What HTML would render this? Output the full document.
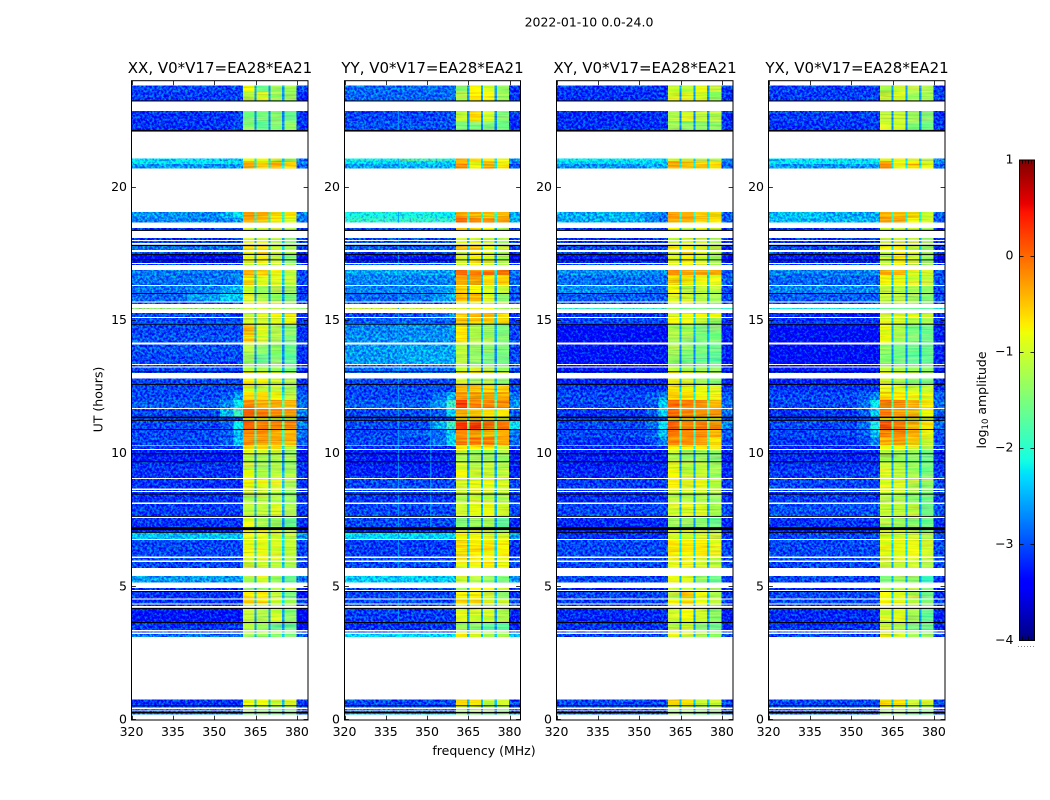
<!DOCTYPE html>
<html lang="en">
<head>
<meta charset="utf-8">
<title>2022-01-10 dynamic spectra</title>
<style>
html,body{margin:0;padding:0;background:#fff;width:1050px;height:800px;overflow:hidden}
svg{display:block}
text{font-family:"DejaVu Sans","Liberation Sans",sans-serif;fill:#000}
</style>
</head>
<body>
<svg id="chart" xmlns="http://www.w3.org/2000/svg" width="1050" height="800" viewBox="0 0 1050 800">
  <defs>
    <filter id="grain" x="0" y="0" width="100%" height="100%" color-interpolation-filters="sRGB">
      <feTurbulence type="fractalNoise" baseFrequency="0.42 0.42" numOctaves="2" seed="7" result="n"/>
      <feColorMatrix in="n" type="matrix" values="0 0 0 0 0.5  2.6 0 0 0 -0.85  0 1.6 0 0 -0.25  0 0 0 0 1" result="m"/>
      <feComposite in="SourceGraphic" in2="m" operator="arithmetic" k1="0" k2="1" k3="0.6" k4="-0.3" result="c"/>
      <feComposite in="c" in2="SourceAlpha" operator="in"/>
    </filter>
    <filter id="streak" x="0" y="0" width="100%" height="100%" color-interpolation-filters="sRGB">
      <feTurbulence type="fractalNoise" baseFrequency="0.03 0.55" numOctaves="2" seed="3" result="n"/>
      <feColorMatrix in="n" type="matrix" values="1.8 0 0 0 -0.4  0 1.8 0 0 -0.4  0 0 0 0 0.5  0 0 0 0 1" result="m"/>
      <feComposite in="SourceGraphic" in2="m" operator="arithmetic" k1="0" k2="1" k3="0.32" k4="-0.16" result="c"/>
      <feComposite in="c" in2="SourceAlpha" operator="in"/>
    </filter>
    <linearGradient id="jet-gradient" x1="0" y1="1" x2="0" y2="0"></linearGradient>
  </defs>
  <text x="589" y="26.5" font-size="12.5" text-anchor="middle">2022-01-10 0.0-24.0</text>
  <text x="220" y="73" font-size="15" text-anchor="middle">XX, V0*V17=EA28*EA21</text>
  <text x="432.5" y="73" font-size="15" text-anchor="middle">YY, V0*V17=EA28*EA21</text>
  <text x="645" y="73" font-size="15" text-anchor="middle">XY, V0*V17=EA28*EA21</text>
  <text x="857" y="73" font-size="15" text-anchor="middle">YX, V0*V17=EA28*EA21</text>
  <text transform="translate(102.5,399.5) rotate(-90)" font-size="12.5" text-anchor="middle">UT (hours)</text>
  <text x="484" y="755" font-size="12.5" text-anchor="middle">frequency (MHz)</text>
  <text transform="translate(986,400) rotate(-90)" font-size="12.5" text-anchor="middle">log<tspan font-size="8.5" dy="2">10</tspan><tspan dy="-2"> amplitude</tspan></text>
  <g id="panels"></g>
  <g id="colorbar"></g>
</svg>
<script>
// Frequency channel edges (MHz), and which table column / notch fills each channel group
const channelEdges = [320, 340, 352, 357, 360.5, 364.6, 365.4, 369.6, 370.4, 374.6, 375.4, 379.8, 384];
const channelColumn = [0, 1, 2, 3, 4, 'n', 5, 'n', 6, 'n', 7, 8];
const xTickValues = [320, 335, 350, 365, 380];
const yTickValues = [0, 5, 10, 15, 20];
const colorbarTicks = [1, 0, -1, -2, -3, -4];

// Narrow interference channels visible in the YY panel
const rfiFreqMHz = [339.4, 351.2];
const rfiFromUT = [3.6, 6.8];
const rfiToUT = [23, 12.1];
const rfiLevel = [-2.6, -2.55];

// UT range (hours) of each observed row
const rowTopUT = [23.82,23.58,22.87,22.49,21.07,20.99,20.88,19.08,18.85,18.47,
18.10,17.99,17.80,17.57,17.46,17.12,16.90,16.71,16.30,16.02,
15.67,15.47,15.27,15.10,14.84,14.46,14.09,13.74,13.32,13.23,
13.06,12.82,12.58,12.32,12.02,11.68,11.34,11.23,10.89,10.63,
10.28,10.14,9.99,9.69,9.39,9.05,8.64,8.55,8.46,8.11,
7.59,7.13,7.03,6.76,6.09,5.94,5.41,4.96,4.84,4.53,
4.34,4.21,3.68,3.33,3.23,.77,.53,.42,.35,.25];
const rowBottomUT = [23.58,23.24,22.49,22.14,20.99,20.88,20.70,18.85,18.67,18.38,
18.02,17.91,17.64,17.46,17.15,17.09,16.71,16.33,16.02,15.72,
15.62,15.43,15.12,14.89,14.46,14.18,13.74,13.36,13.27,13.06,
13.02,12.58,12.32,12.02,11.72,11.34,11.23,10.89,10.63,10.31,
10.18,9.99,9.69,9.39,9.09,8.69,8.60,8.46,8.16,7.64,
7.13,7.03,6.80,6.13,5.98,5.70,5.17,4.88,4.57,4.38,
4.28,3.68,3.38,3.29,3.12,.53,.46,.38,.25,.21];

// Flagged (black) UT ranges
const flagTopUT = [23.26,22.15,18.40,17.84,17.50,17.29,16.03,14.88,13.09,12.62,11.39,11.27,10.92,10.01,9.71,8.50,7.66,7.24,7.06,4.84,4.21,3.68,.55,.30];
const flagBottomUT = [23.22,22.09,18.36,17.79,17.46,17.26,16.00,14.84,13.06,12.58,11.33,11.23,10.89,9.99,9.69,8.46,7.64,7.13,7.03,4.82,4.17,3.64,.53,.25];

// Level of the narrow blue notches between the four bright bands, per row
const notchLevels = [-2.6,-2.6,-2.7,-2.7,-2.3,-2.2,-2.2,-2,-2,-2.5,
-2.5,-2.5,-2.3,-2.4,-2.6,-2.6,-2.2,-2.4,-2.6,-2.6,
-2.4,-1.8,-2.4,-2.4,-2.5,-2.5,-2.7,-2.7,-2.6,-2.6,
-2.3,-2.4,-2.4,-2.1,-1.6,-1.7,-2.2,-1.5,-1.9,-1.8,
-2.2,-2.6,-2.7,-2.6,-2.5,-2.4,-2.5,-2.5,-2.6,-2.5,
-2.6,-2.3,-2.3,-2.3,-2.4,-2.5,-2.5,-2.5,-2.4,-2.3,
-2.5,-2.6,-2.6,-2.5,-2.4,-2.4,-2.5,-2.5,-2.6,-2.6];

// log10 amplitude per row: [bgLeft, bgMid, bgRight, edge, band1, band2, band3, band4, tail]
const xxRows = [
[-3,-3,-3,-3,-.8,-1.6,-1.3,-1.25,-3],
[-3.05,-3.05,-3.05,-3,-1.1,-.95,-1.3,-1.3,-3.2],
[-3.1,-3.1,-3.1,-3,-1.5,-1.5,-1.4,-1.6,-3.1],
[-3.1,-3.1,-3.1,-3,-1.4,-1.65,-1.45,-1.35,-3.1],
[-2.3,-2.3,-2.4,-2.4,-.8,-.8,-1,-1.2,-2.8],
[-2.2,-2.2,-2.2,-2.2,-.35,-.55,-.4,-.55,-2.7],
[-2.6,-2.6,-2.6,-2.6,-.35,-.55,-.4,-.55,-2.9],
[-2.6,-2.7,-2.5,-2.2,-.25,-.35,-.55,-.65,-2.7],
[-2.7,-2.7,-2.7,-2.6,-.45,-.5,-.7,-.9,-2.8],
[-3.1,-3.1,-3.1,-3.1,-1,-1,-1.1,-1.2,-3.1],
[-3.1,-3.1,-3.1,-3.1,-1.1,-1.1,-1.2,-1.4,-3.1],
[-3,-3,-3,-3,-1,-1,-1.2,-1.4,-3],
[-2.8,-2.8,-2.8,-2.8,-.55,-.65,-1,-1.2,-3],
[-3,-3,-3,-3,-.75,-.5,-.95,-1.1,-3.1],
[-3.3,-3.3,-3.3,-3.2,-.9,-.8,-1.1,-1.5,-3.4],
[-3,-3,-3,-3,-1,-1,-1.1,-1.3,-3],
[-2.75,-2.75,-2.75,-2.7,-.35,-.5,-.85,-1.1,-3],
[-2.8,-2.8,-2.8,-2.7,-.6,-.9,-.95,-1.1,-3],
[-2.8,-2.7,-2.55,-2.5,-.95,-1.3,-1.2,-1.3,-3.1],
[-2.85,-2.6,-2.3,-2.4,-1,-1.2,-1.3,-1.5,-3],
[-3,-3,-3,-3,-.7,-.7,-.9,-1.2,-3],
[-1.4,-1.4,-1.4,-1.4,-1,-1,-1.1,-1.3,-1.4],
[-3,-3,-3,-3,-1.1,-.9,-.75,-.65,-3.1],
[-3,-3,-3,-3,-1,-1,-.9,-.8,-3.2],
[-3,-3,-3,-3,-.45,-.9,-1.2,-1.4,-3.1],
[-2.95,-2.95,-2.95,-2.95,-.55,-1,-1.25,-1.5,-3.1],
[-2.95,-2.95,-2.95,-2.95,-1.2,-1.4,-1.3,-1.55,-3.1],
[-3,-3,-3,-3,-1.3,-1.6,-1.45,-1.7,-3.1],
[-3,-3,-3,-3,-1.2,-1.3,-1.4,-1.6,-3.1],
[-3,-3,-3,-3,-1.1,-1.2,-1.3,-1.5,-3.1],
[-3,-3,-3,-3,-.6,-.7,-.9,-1.2,-3.1],
[-3,-3,-3,-3,-.7,-.75,-1,-1.2,-3.1],
[-3,-3,-3,-3,-.9,-1.05,-1.1,-1.25,-3],
[-3,-3,-2.9,-2.6,-.6,-.6,-.8,-1.1,-2.9],
[-2.9,-2.9,-2.7,-2.2,-.2,-.4,-.35,-.45,-2.8],
[-3,-3,-2.5,-1.9,.1,-.1,-.2,-.3,-2.7],
[-3,-3,-3,-3,-.8,-.8,-.9,-1,-3],
[-3,-3,-2.9,-2.2,.15,-.05,-.15,-.2,-2.7],
[-3,-3,-2.9,-2.5,-.15,-.2,-.3,-.35,-2.8],
[-3,-3,-2.9,-2.4,-.2,-.3,-.35,-.45,-2.9],
[-3.05,-3.05,-3.05,-3,-.6,-.55,-.65,-.95,-3.05],
[-3.2,-3.2,-3.2,-3.2,-.85,-.95,-1,-1.35,-3.2],
[-3.2,-3.2,-3.2,-3.2,-1.1,-1.2,-1.2,-1.3,-3.2],
[-3.1,-3.1,-3.1,-3.1,-1.1,-1.3,-1.2,-1.35,-3.1],
[-3.1,-3.1,-3.1,-3.1,-.8,-1.15,-1.1,-1.2,-3.1],
[-3.1,-3.1,-3.1,-3.1,-.75,-.85,-.95,-1.25,-3.1],
[-3.1,-3.1,-3.1,-3.1,-1,-1,-1.1,-1.3,-3.1],
[-3.1,-3.1,-3.1,-3.1,-1.1,-1.1,-1.2,-1.4,-3.1],
[-3.1,-3.1,-3.1,-3.1,-1.2,-1.1,-1.2,-1.35,-3.1],
[-3.05,-3.05,-3.05,-3.05,-1.1,-1.1,-.95,-1.25,-3.05],
[-3.1,-3.1,-3.1,-3.1,-.9,-1.25,-1.3,-1.6,-3.1],
[-3.2,-3.2,-3.2,-3.2,-.7,-.7,-.9,-1.2,-3.2],
[-2.4,-2.4,-2.4,-2.4,-.9,-.9,-1,-1.1,-2.6],
[-3,-3,-3,-3,-.85,-.85,-.95,-1.05,-3],
[-3,-3,-3,-3,-.9,-.9,-1,-1.1,-3],
[-3,-3,-3,-3,-1,-1,-1.1,-1.2,-3],
[-2.6,-2.6,-2.6,-2.6,-1.2,-.95,-1.3,-1.6,-2.85],
[-3.1,-3.1,-3.1,-3.1,-1.4,-1.3,-1.2,-1,-3.1],
[-3.1,-3.1,-3.1,-3.1,-.7,-.7,-1.1,-1.5,-3.3],
[-3.1,-3.1,-3.1,-3.1,-.55,-.6,-1,-1.2,-3.1],
[-3.1,-3.1,-3.1,-3.1,-1,-1,-1.1,-1.3,-3.1],
[-3.25,-3.25,-3.25,-3.25,-1.1,-1.2,-1,-1.4,-3.4],
[-3.1,-3.1,-3.1,-3.1,-1.1,-1.3,-1.6,-1.6,-3.3],
[-3.1,-3.1,-3.1,-3.1,-1,-1.1,-1.2,-1.4,-3.1],
[-2.8,-2.8,-2.8,-2.8,-1.35,-1.3,-1.4,-1.5,-2.9],
[-3.1,-3.1,-3.1,-3.1,-.8,-.8,-1.05,-.95,-3.1],
[-3,-3,-3,-3,-1.1,-1.1,-1.2,-1.2,-3],
[-2.7,-2.7,-2.7,-2.7,-1.2,-1.2,-1.3,-1.3,-2.8],
[-2.9,-2.9,-2.9,-2.9,-1.3,-1.3,-1.4,-1.4,-3],
[-2.7,-2.7,-2.7,-2.7,-1.4,-1.4,-1.5,-1.5,-2.8]];

const yyRows = [
[-2.85,-2.85,-2.85,-2.8,-1.4,-.75,-.95,-1.35,-3.1],
[-2.85,-2.85,-2.85,-2.8,-1.2,-.7,-.85,-1.3,-3.1],
[-3,-3,-3,-2.95,-1.05,-.55,-1,-1.45,-3.1],
[-2.95,-2.95,-2.95,-2.95,-1.5,-1.5,-1.5,-1.55,-3.15],
[-2.1,-1.8,-1.9,-2.1,-.4,-.6,-.6,-.9,-2.6],
[-2.3,-2.3,-2.3,-2.3,-.45,-.85,-.5,-.85,-2.7],
[-2.55,-2.5,-2.5,-2.4,-.15,-.8,-.3,-.7,-2.9],
[-2.1,-2.1,-2.15,-2.2,-.35,-.35,-.4,-.4,-2.5],
[-1.95,-1.95,-1.95,-2,-.05,-.05,-.1,-.3,-2.5],
[-3,-3,-3,-3,-.6,-.5,-.75,-1.2,-3],
[-3,-3,-3,-3,-1.1,-1,-1,-1.2,-3],
[-2.9,-2.9,-2.9,-2.9,-.8,-.8,-1,-1.3,-3],
[-2.9,-2.9,-2.9,-2.9,-.45,-.45,-.75,-1.05,-3],
[-3,-3,-3,-3,-1.1,-.75,-.85,-1.2,-3.1],
[-3.2,-3.2,-3.2,-3.2,-1,-.7,-.9,-1.2,-3.3],
[-2.9,-2.9,-2.9,-2.9,-1,-.9,-1,-1.2,-3],
[-2.55,-2.55,-2.55,-2.5,0,-.15,-.1,-.05,-2.8],
[-2.7,-2.7,-2.7,-2.7,-.3,-.3,-.65,-.55,-2.85],
[-2.7,-2.7,-2.6,-2.5,-.6,-.75,-.95,-1.05,-2.9],
[-2.85,-2.75,-2.6,-2.5,-.45,-.4,-.9,-1.4,-2.95],
[-3,-3,-3,-3,-.8,-.8,-.9,-1.1,-3],
[-1.1,-1.1,-1.1,-1.1,-.9,-.9,-.85,-1.2,-1.3],
[-3,-2.95,-2.8,-2.6,-.55,-.45,-.45,-.6,-3.1],
[-2.9,-2.9,-2.9,-2.9,-.45,-.5,-.5,-.6,-3.1],
[-2.7,-2.65,-2.65,-2.6,-.65,-1.15,-1.3,-1.5,-3],
[-2.65,-2.65,-2.65,-2.65,-.7,-1.2,-1.25,-1.45,-3],
[-2.6,-2.55,-2.55,-2.5,-1.1,-1.35,-1.4,-1.5,-3],
[-2.6,-2.5,-2.5,-2.5,-1.15,-1.4,-1.55,-1.55,-3],
[-2.9,-2.9,-2.9,-2.9,-1.1,-1.2,-1.3,-1.4,-3],
[-2.8,-2.8,-2.8,-2.8,-1,-1,-1.2,-1.3,-3],
[-2.8,-2.8,-2.8,-2.8,-.5,-.6,-.8,-1,-3],
[-3,-3,-3,-3,-1,-1.3,-1.2,-1.4,-3.1],
[-3,-3,-3,-3,-.45,-.45,-.5,-.55,-3],
[-3,-3,-2.8,-2.5,-.25,-.3,-.3,-.35,-2.8],
[-2.9,-2.9,-2.6,-1.9,.25,-.15,-.2,-.2,-2.6],
[-3,-3,-2.9,-2.3,-.35,-.5,-.65,-.7,-2.9],
[-3,-3,-3,-3,-.7,-.7,-.8,-.9,-3],
[-3,-3,-2.5,-1.9,.3,.2,-.05,-.05,-2.2],
[-3,-2.9,-2.8,-2.4,-.2,-.25,-.35,-.4,-2.8],
[-3,-3,-2.8,-2.3,-.15,-.1,-.1,-.3,-2.8],
[-3.1,-3.1,-3.1,-3.1,-.7,-.7,-.7,-1,-3.1],
[-3.2,-3.2,-3.2,-3.2,-1,-1.3,-1.2,-1.2,-3.2],
[-3.2,-3.2,-3.2,-3.2,-1.2,-1.3,-1.3,-1.3,-3.2],
[-3.2,-3.2,-3.2,-3.2,-1,-1.2,-1.1,-1.2,-3.2],
[-3.15,-3.15,-3.15,-3.15,-.8,-1,-1,-1.1,-3.15],
[-3,-3,-3,-3,-.95,-.85,-.85,-.95,-3],
[-3,-3,-3,-3,-1.05,-1,-1,-1.05,-3],
[-3,-3,-3,-3,-1.05,-1.05,-1.05,-1.1,-3],
[-3.1,-3.1,-3.1,-3.1,-1.2,-1,-1.1,-1.25,-3.1],
[-3,-3,-3,-3,-1.05,-.85,-.85,-1,-3],
[-3,-3,-3,-3,-1.45,-1.3,-1.25,-1.7,-3.15],
[-3.2,-3.2,-3.2,-3.2,-.9,-.85,-1,-1.4,-3.2],
[-2.3,-2.3,-2.3,-2.3,-.75,-.8,-.95,-.95,-2.6],
[-3.05,-3.05,-3.05,-3.05,-.6,-.65,-.65,-.75,-3.1],
[-3,-3,-3,-3,-.75,-.75,-.75,-.8,-3],
[-3,-3,-3,-3,-.85,-.85,-.7,-.8,-3],
[-2.35,-2.35,-2.35,-2.35,-1,-1.2,-1.35,-1.5,-2.6],
[-3,-3,-3,-3,-1.3,-.8,-.8,-1,-3],
[-3,-3,-3,-3,-.75,-.75,-1.05,-1.4,-3.1],
[-3,-3,-3,-3,-.5,-.6,-.9,-1,-3],
[-3,-3,-3,-3,-1,-1,-1.1,-1.2,-3],
[-3.05,-3.05,-3.05,-3.05,-.9,-1,-1,-1.2,-3.2],
[-3.1,-3.1,-3.1,-3.1,-1.3,-1.4,-1.7,-1.7,-3.2],
[-3,-3,-3,-3,-1,-1.1,-1.2,-1.3,-3],
[-2.3,-2.3,-2.3,-2.3,-.7,-.9,-1.2,-1.2,-2.3],
[-3,-3,-3,-3,-.6,-.7,-1.1,-1,-3],
[-2.9,-2.9,-2.9,-2.9,-1,-1,-1.1,-1.2,-3],
[-2.7,-2.7,-2.7,-2.7,-1.2,-1.2,-1.3,-1.3,-2.8],
[-2.9,-2.9,-2.9,-2.9,-1.3,-1.3,-1.4,-1.4,-3],
[-2.4,-2.4,-2.4,-2.4,-1.4,-1.4,-1.5,-1.5,-2.5]];

const xyRows = [
[-3.1,-3.1,-3.1,-3.1,-1,-1.1,-.85,-1.1,-3.1],
[-3.1,-3.1,-3.1,-3.1,-.95,-.95,-.95,-1.3,-3.1],
[-3.15,-3.15,-3.15,-3.1,-1.2,-.95,-1.1,-1.2,-3.15],
[-3.1,-3.1,-3.1,-3.1,-1.3,-1.4,-1.4,-1.35,-3.1],
[-2.2,-2.2,-2.3,-2.3,-1,-1,-1.2,-1.2,-2.7],
[-2.3,-2.3,-2.3,-2.3,-.4,-.5,-.6,-.7,-2.7],
[-2.6,-2.6,-2.5,-2.5,-.35,-.45,-.45,-.65,-2.9],
[-2.5,-2.5,-2.65,-2.75,-.25,-.3,-.5,-.55,-2.9],
[-2.5,-2.5,-2.7,-2.8,-.4,-.4,-.6,-.7,-2.9],
[-3.1,-3.1,-3.1,-3.1,-.75,-1.1,-.8,-1,-3.1],
[-3.1,-3.1,-3.1,-3.1,-1,-.9,-1,-1.2,-3.1],
[-3.1,-3.1,-3.1,-3.1,-1,-.9,-1,-1.2,-3.1],
[-3,-3,-3,-3,-.7,-.7,-.9,-1.1,-3.1],
[-3,-3,-3,-3,-.95,-.7,-.85,-1.1,-3.1],
[-3.2,-3.2,-3.2,-3.2,-.9,-.7,-1,-1.3,-3.3],
[-3,-3,-3,-3,-1,-.9,-1,-1.2,-3],
[-2.65,-2.65,-2.65,-2.65,-.2,-.35,-.3,-.35,-2.9],
[-2.8,-2.8,-2.8,-2.8,-.6,-.7,-.85,-.9,-2.9],
[-2.65,-2.7,-2.8,-2.8,-.8,-1.15,-1.1,-1.15,-3],
[-2.9,-2.9,-2.9,-2.9,-.95,-1,-1.15,-1.3,-3],
[-3,-3,-3,-3,-.9,-.9,-1,-1.2,-3],
[-1.9,-1.9,-1.9,-1.9,-1.3,-1.5,-1.5,-1.7,-2],
[-3.1,-3.1,-3.1,-3.1,-.9,-.8,-.75,-.75,-3.1],
[-3,-3,-3,-3,-.8,-.9,-1.1,-1.3,-3.1],
[-3.3,-3.3,-3.3,-3.3,-1.2,-1.25,-1.5,-1.5,-3.2],
[-3.3,-3.3,-3.3,-3.3,-1.25,-1.35,-1.5,-1.5,-3.2],
[-3.25,-3.25,-3.25,-3.25,-1.25,-1.4,-1.5,-1.6,-3.2],
[-3.25,-3.25,-3.25,-3.25,-1.3,-1.5,-1.6,-1.7,-3.2],
[-3.3,-3.3,-3.3,-3.3,-1.2,-1.3,-1.4,-1.5,-3.2],
[-3.2,-3.2,-3.2,-3.2,-1.1,-1.2,-1.3,-1.4,-3.2],
[-3.1,-3.1,-3.1,-3.1,-.7,-.8,-1,-1.2,-3.1],
[-3.2,-3.2,-3.2,-3.2,-.85,-1,-1.3,-1.45,-3.2],
[-3.1,-3.1,-3.1,-3.1,-.65,-.75,-.85,-.95,-3.1],
[-3,-3,-2.9,-2.7,-.55,-.6,-.8,-.85,-2.9],
[-3,-3,-2.9,-2.3,-.05,-.2,-.2,-.35,-2.8],
[-3.1,-3.1,-2.9,-2.3,.05,-.1,-.25,-.3,-2.8],
[-3,-3,-3,-3,-.7,-.7,-.8,-.9,-3],
[-3,-3,-2.8,-2.2,.1,-.05,-.1,-.2,-2.7],
[-3,-3,-2.9,-2.4,-.05,-.15,-.2,-.4,-2.9],
[-3.1,-3.1,-3,-2.7,-.2,-.25,-.3,-.6,-3],
[-3.15,-3.15,-3.15,-3.15,-.7,-.65,-.7,-.9,-3.15],
[-3.2,-3.2,-3.2,-3.2,-1,-1.3,-1.3,-1.35,-3.2],
[-3.2,-3.2,-3.2,-3.2,-1.2,-1.35,-1.3,-1.45,-3.2],
[-3.2,-3.2,-3.2,-3.2,-.9,-1.15,-1.1,-1.3,-3.2],
[-3.15,-3.15,-3.15,-3.15,-.75,-1.05,-1.05,-1.3,-3.15],
[-3.05,-3.05,-3.05,-3.05,-.75,-.9,-.85,-1.1,-3.05],
[-3.1,-3.1,-3.1,-3.1,-1,-1,-1,-1.2,-3.1],
[-3.1,-3.1,-3.1,-3.1,-1.1,-1.1,-1.1,-1.3,-3.1],
[-3.15,-3.15,-3.15,-3.15,-1.15,-1.15,-1.2,-1.4,-3.15],
[-3,-3,-3,-3,-1,-.95,-.95,-1.2,-3],
[-3.15,-3.15,-3.15,-3.15,-1.3,-1.35,-1.4,-1.6,-3.15],
[-3.2,-3.2,-3.2,-3.2,-.85,-.85,-1,-1.3,-3.2],
[-3.1,-3.1,-3.1,-3.1,-.95,-.95,-1,-1.1,-3.1],
[-3,-3,-3,-3,-.65,-.65,-.7,-.9,-3],
[-3,-3,-3,-3,-.8,-.8,-.9,-1,-3],
[-3,-3,-3,-3,-.9,-.9,-1,-1.1,-3],
[-3,-3,-3,-3,-.85,-.9,-1.35,-1.6,-3.1],
[-3.2,-3.2,-3.2,-3.2,-1,-.95,-1.1,-1.3,-3.2],
[-3,-3,-3,-3,-1.1,-.5,-.8,-1.2,-3.1],
[-3.05,-3.05,-3.05,-3.05,-.7,-.55,-.85,-1.1,-3.05],
[-3.05,-3.05,-3.05,-3.05,-1,-.9,-1,-1.2,-3.05],
[-3.15,-3.15,-3.15,-3.15,-1,-.8,-1,-1.35,-3.2],
[-3.1,-3.1,-3.1,-3.1,-1.15,-1,-1.45,-1.6,-3.2],
[-3.05,-3.05,-3.05,-3.05,-1,-1,-1.2,-1.4,-3.05],
[-3,-3,-3,-3,-.9,-1.1,-1.2,-1.3,-3],
[-3,-3,-3,-3,-.55,-.65,-1.05,-1.05,-3],
[-2.9,-2.9,-2.9,-2.9,-1,-1,-1.2,-1.2,-3],
[-2.8,-2.8,-2.8,-2.8,-1.2,-1.2,-1.3,-1.3,-2.9],
[-3,-3,-3,-3,-1.3,-1.3,-1.4,-1.4,-3],
[-2.8,-2.8,-2.8,-2.8,-1.4,-1.4,-1.5,-1.5,-2.9]];

const yxRows = [
[-3.05,-3.05,-3.05,-3.05,-1.2,-1.05,-1.2,-1.25,-3.05],
[-3.05,-3.05,-3.05,-3.05,-1.05,-.95,-1.3,-1.25,-3.05],
[-3.05,-3.05,-3.05,-3.05,-1.1,-1.05,-1.3,-1.45,-3.1],
[-3.1,-3.1,-3.1,-3.05,-1,-1,-1.45,-1.55,-3.1],
[-2.3,-2.3,-2.3,-2.3,-.85,-.8,-1,-1.2,-2.7],
[-2.2,-2.2,-2.2,-2.2,-.4,-.9,-.7,-.9,-2.7],
[-2.6,-2.6,-2.6,-2.6,-.3,-.85,-.5,-.85,-2.9],
[-2.4,-2.5,-2.5,-2.5,-.35,-.4,-.5,-1,-2.9],
[-2.45,-2.45,-2.45,-2.5,-.3,-.35,-.8,-1,-2.9],
[-3.1,-3.1,-3.1,-3.1,-1,-1.1,-1.1,-1.3,-3.1],
[-3.1,-3.1,-3.1,-3.1,-1.1,-1,-1.1,-1.3,-3.1],
[-3.1,-3.1,-3.1,-3.1,-1.1,-1,-1.1,-1.3,-3.1],
[-3,-3,-3,-3,-.75,-.75,-1.05,-1.3,-3.1],
[-3,-3,-3,-3,-1,-.7,-1,-1.3,-3.1],
[-3.2,-3.2,-3.2,-3.2,-1.1,-.7,-1.05,-1.35,-3.3],
[-3,-3,-3,-3,-1.1,-.9,-1.1,-1.3,-3],
[-2.7,-2.7,-2.7,-2.7,-.4,-.45,-.9,-1,-2.9],
[-2.85,-2.85,-2.85,-2.85,-.8,-.85,-1,-1.1,-2.95],
[-2.7,-2.7,-2.7,-2.7,-1.1,-1.15,-1.25,-1.35,-3],
[-2.9,-2.9,-2.9,-2.9,-1.1,-1.15,-1.3,-1.45,-3],
[-3,-3,-3,-3,-1,-1,-1.2,-1.4,-3],
[-2.1,-2.1,-2.1,-2.1,-1.6,-1.6,-1.6,-1.7,-2.1],
[-3.2,-3.2,-3.2,-3.2,-1.05,-.95,-.85,-1,-3.2],
[-3.1,-3.1,-3.1,-3.1,-.95,-1,-1.15,-1.25,-3.1],
[-3.3,-3.3,-3.3,-3.3,-.85,-1.2,-1.5,-1.6,-3.2],
[-3.3,-3.3,-3.3,-3.3,-.8,-1.25,-1.5,-1.6,-3.2],
[-3.3,-3.3,-3.3,-3.3,-1.35,-1.55,-1.6,-1.6,-3.2],
[-3.3,-3.3,-3.3,-3.3,-1.4,-1.55,-1.7,-1.65,-3.2],
[-3.3,-3.3,-3.3,-3.3,-1.2,-1.3,-1.4,-1.5,-3.2],
[-3.2,-3.2,-3.2,-3.2,-1.1,-1.2,-1.3,-1.4,-3.2],
[-3.1,-3.1,-3.1,-3.1,-.8,-.9,-1.1,-1.3,-3.1],
[-3.2,-3.2,-3.2,-3.2,-1,-1.2,-1.4,-1.5,-3.2],
[-3.1,-3.1,-3.1,-3.1,-.9,-.9,-1,-1.05,-3.1],
[-3,-3,-2.9,-2.7,-.6,-.7,-.85,-.9,-2.9],
[-3,-3,-2.8,-2.2,-.05,-.2,-.4,-.7,-2.8],
[-3.1,-3.1,-2.9,-2.3,-.1,-.3,-.4,-.75,-2.9],
[-3,-3,-3,-3,-.7,-.7,-.9,-1,-3],
[-3,-3,-2.8,-2.1,.1,-.1,-.4,-.65,-2.8],
[-3,-3,-2.9,-2.4,-.15,-.15,-.45,-.85,-2.9],
[-3.1,-3.1,-3,-2.7,-.45,-.3,-.55,-1,-3],
[-3.15,-3.15,-3.15,-3.15,-.8,-.8,-.95,-1.2,-3.15],
[-3.15,-3.15,-3.15,-3.15,-1.1,-1.25,-1.25,-1.5,-3.15],
[-3.15,-3.15,-3.15,-3.15,-1.2,-1.3,-1.4,-1.6,-3.15],
[-3.1,-3.1,-3.1,-3.1,-1.05,-1.15,-1.3,-1.55,-3.1],
[-3.05,-3.05,-3.05,-3.05,-.95,-1.1,-1.25,-1.5,-3.05],
[-3,-3,-3,-3,-.9,-.95,-1.15,-1.35,-3],
[-3,-3,-3,-3,-1,-1,-1.2,-1.4,-3],
[-3.05,-3.05,-3.05,-3.05,-1.1,-1.1,-1.3,-1.5,-3.05],
[-3.05,-3.05,-3.05,-3.05,-1.2,-1.2,-1.4,-1.55,-3.05],
[-2.95,-2.95,-2.95,-2.95,-1.05,-1.1,-1.1,-1.55,-2.95],
[-3.1,-3.1,-3.1,-3.1,-1.2,-1.3,-1.4,-1.6,-3.1],
[-3.2,-3.2,-3.2,-3.2,-.9,-.9,-1.1,-1.4,-3.2],
[-3,-3,-3,-3,-.9,-1,-1.05,-1.25,-3],
[-3,-3,-3,-3,-.85,-.85,-.85,-1,-3],
[-3,-3,-3,-3,-.95,-.95,-1,-1.1,-3],
[-3,-3,-3,-3,-1.05,-1.05,-1.05,-1.2,-3],
[-3,-3,-3,-3,-1.5,-1.3,-1.35,-1.9,-3.1],
[-3.2,-3.2,-3.2,-3.2,-1.2,-1.1,-1.2,-1.5,-3.2],
[-3,-3,-3,-3,-.8,-.9,-1.15,-1.55,-3.1],
[-3,-3,-3,-3,-.65,-.85,-1.1,-1.45,-3],
[-3.05,-3.05,-3.05,-3.05,-1,-1,-1.2,-1.5,-3.05],
[-3.15,-3.15,-3.15,-3.15,-1,-.9,-1.25,-1.65,-3.2],
[-3.1,-3.1,-3.1,-3.1,-1.05,-1.2,-1.55,-1.6,-3.2],
[-3.05,-3.05,-3.05,-3.05,-1,-1.1,-1.3,-1.5,-3.05],
[-3,-3,-3,-3,-.8,-.95,-1.3,-1.3,-3],
[-3,-3,-3,-3,-.6,-.6,-1.1,-1,-3],
[-2.9,-2.9,-2.9,-2.9,-1,-1,-1.2,-1.2,-3],
[-2.8,-2.8,-2.8,-2.8,-1.2,-1.2,-1.3,-1.3,-2.9],
[-3,-3,-3,-3,-1.3,-1.3,-1.4,-1.4,-3],
[-2.8,-2.8,-2.8,-2.8,-1.4,-1.4,-1.5,-1.5,-2.9]];

// Figure layout
const SVGNS = 'http://www.w3.org/2000/svg';
const panelDefs = [
  {key:'xx', rows:xxRows, left:131.5, right:308},
  {key:'yy', rows:yyRows, left:344.5, right:520.5},
  {key:'xy', rows:xyRows, left:556.5, right:733},
  {key:'yx', rows:yxRows, left:768.5, right:945}
];
const plotTop = 80.7, plotBottom = 720, utMax = 24, freqMin = 320, freqMax = 384, logMin = -4, logMax = 1;

function utToY(ut){ return plotBottom - ut / utMax * (plotBottom - plotTop); }
function freqToX(p, f){ return p.left + (f - freqMin) / (freqMax - freqMin) * (p.right - p.left); }
function ramp(t, pts){
  for(let i = 1; i < pts.length; i++){
    if(t <= pts[i][0]){
      const a = pts[i-1], b = pts[i];
      return a[1] + (b[1] - a[1]) * (t - a[0]) / (b[0] - a[0]);
    }
  }
  return pts[pts.length-1][1];
}
function jet(v){
  const t = Math.max(0, Math.min(1, (v - logMin) / (logMax - logMin)));
  const r = ramp(t, [[0,0],[.35,0],[.66,1],[.89,1],[1,.5]]);
  const g = ramp(t, [[0,0],[.125,0],[.375,1],[.64,1],[.91,0],[1,0]]);
  const b = ramp(t, [[0,.5],[.11,1],[.34,1],[.65,0],[1,0]]);
  return 'rgb(' + Math.round(r*255) + ',' + Math.round(g*255) + ',' + Math.round(b*255) + ')';
}
function make(tag, attrs, parent){
  const el = document.createElementNS(SVGNS, tag);
  for(const k in attrs){ el.setAttribute(k, attrs[k]); }
  parent.appendChild(el);
  return el;
}

const panelsRoot = document.getElementById('panels');
panelDefs.forEach(function(p){
  const g = make('g', {}, panelsRoot);
  
  
  const bgGroup = make('g', {filter:'url(#grain)', 'shape-rendering':'crispEdges'}, g);
  
  
  const bandGroup = make('g', {filter:'url(#streak)', 'shape-rendering':'crispEdges'}, g);
  
  

  p.rows.forEach(function(row, ri){
    const y0 = utToY(rowTopUT[ri]);
    const y1 = utToY(rowBottomUT[ri]);
    channelColumn.forEach(function(col, ci){
      const x0 = freqToX(p, channelEdges[ci]);
      const x1 = freqToX(p, channelEdges[ci+1]);
      const level = col === 'n' ? notchLevels[ri] : row[col];
      const isBackground = col !== 'n' && (col <= 3 || col === 8);
      const cell = make('rect', {x:x0, y:y0, width:x1-x0, height:y1-y0, fill:jet(level)}, isBackground ? bgGroup : bandGroup);
      
      
    });
    if(p.key === 'yy'){
      rfiFreqMHz.forEach(function(f, i){
        if(rowTopUT[ri] <= rfiToUT[i] && rowBottomUT[ri] >= rfiFromUT[i]){
          const rfi = make('rect', {x:freqToX(p, f), y:y0, width:1, height:y1-y0, fill:jet(rfiLevel[i])}, g);
          
          
        }
      });
    }
  });

  flagTopUT.forEach(function(top, i){
    const y0 = utToY(top);
    const y1 = utToY(flagBottomUT[i]);
    const flag = make('rect', {x:p.left, y:y0, width:p.right-p.left, height:Math.max(y1-y0,.9), fill:'#000'}, g);
    
    
  });

  const frame = make('rect', {x:p.left, y:plotTop, width:p.right-p.left, height:plotBottom-plotTop, fill:'none', stroke:'#000', 'stroke-width':1}, g);
  
  

  xTickValues.forEach(function(f){
    const x = Math.round(freqToX(p, f)) + .5;
    const tb = make('line', {x1:x, x2:x, y1:plotBottom, y2:plotBottom-4.4, stroke:'#000', 'stroke-width':.8}, g);
    
    
    const tt = make('line', {x1:x, x2:x, y1:plotTop, y2:plotTop+4.4, stroke:'#000', 'stroke-width':.8}, g);
    
    
    const lab = make('text', {x:freqToX(p, f), y:736, 'font-size':12.5, 'text-anchor':'middle'}, g);
    lab.textContent = String(f);
    
    
  });
  yTickValues.forEach(function(u){
    const y = Math.round(utToY(u) - .6) + .5;
    const tl = make('line', {x1:p.left, x2:p.left+4.4, y1:y, y2:y, stroke:'#000', 'stroke-width':.8}, g);
    
    
    const tr = make('line', {x1:p.right, x2:p.right-4.4, y1:y, y2:y, stroke:'#000', 'stroke-width':.8}, g);
    
    
    const lab = make('text', {x:p.left-4.5, y:utToY(u)+3.6, 'font-size':12.5, 'text-anchor':'end'}, g);
    lab.textContent = String(u);
    
    
  });
});

// Colorbar
const cbLeft = 1019.5, cbRight = 1034.5, cbTop = 160, cbBottom = 640.5;
const cbRoot = document.getElementById('colorbar');
const gradient = document.getElementById('jet-gradient');
for(let i = 0; i <= 100; i++){
  const stop = make('stop', {offset:(i/100), 'stop-color':jet(logMin + (logMax - logMin) * i / 100)}, gradient);
}
const cbFill = make('rect', {x:cbLeft, y:cbTop, width:cbRight-cbLeft, height:cbBottom-cbTop, fill:'url(#jet-gradient)', stroke:'#000', 'stroke-width':1}, cbRoot);


function cbY(v){ return cbBottom - (v - logMin) / (logMax - logMin) * (cbBottom - cbTop); }
colorbarTicks.forEach(function(v){
  const y = Math.round(cbY(v)) + .5;
  if(v !== 1 && v !== -4){
    const a = make('line', {x1:cbLeft, x2:cbLeft+4, y1:y, y2:y, stroke:'#000', 'stroke-width':.8}, cbRoot);
    
    
    const b = make('line', {x1:cbRight, x2:cbRight-4, y1:y, y2:y, stroke:'#000', 'stroke-width':.8}, cbRoot);
    
    
  }
  const lab = make('text', {x:1013.5, y:cbY(v)+3.4, 'font-size':12.5, 'text-anchor':'end'}, cbRoot);
  lab.textContent = v < 0 ? '\u2212' + Math.abs(v) : String(v);
  
  
});
[1022, 1025, 1028, 1031].forEach(function(x){
  const top = make('line', {x1:x+.5, x2:x+.5, y1:cbTop, y2:cbTop+4, stroke:'#000', 'stroke-width':.8}, cbRoot);
  
  
  const bot = make('line', {x1:x+.5, x2:x+.5, y1:cbBottom, y2:cbBottom-4, stroke:'#000', 'stroke-width':.8}, cbRoot);
  
  
});
const cbDots = make('line', {x1:1018, x2:1035, y1:646.5, y2:646.5, stroke:'#888', 'stroke-width':1, 'stroke-dasharray':'1 2'}, cbRoot);


</script>
</body>
</html>
